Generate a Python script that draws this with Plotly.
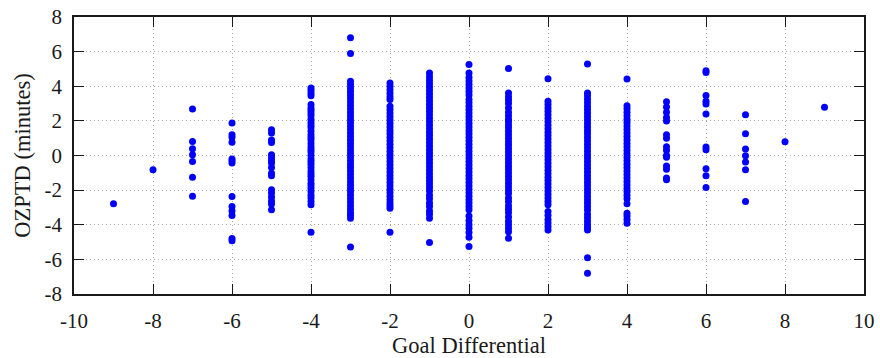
import plotly.graph_objects as go

# Goal differential columns and their OZPTD values (minutes)
gd_m9 = [-2.78]
gd_m8 = [-0.83]
gd_m7 = [2.69, 0.81, 0.39, 0.04, -0.34, -1.25, -2.35]
gd_m6 = [1.88, 1.2, 1.05, 0.76, -0.2, -0.3, -0.44, -2.37, -2.95, -3.2, -3.47, -4.8, -4.92]
gd_m5 = [1.49, 1.3, 0.9, 0.75, 0.04, -0.15, -0.3, -0.44, -0.7, -1.02, -1.17,
         -1.98, -2.17, -2.4, -2.63, -2.8, -3.14]
gd_m4 = [3.9, 3.75, 3.6, 3.45, 2.95, 2.75, 2.6, 2.45, 2.3, 2.1, 1.9, 1.75, 1.6, 1.4,
         1.2, 1.05, 0.9, 0.7, 0.5, 0.35, 0.2, 0.0, -0.2, -0.35, -0.5, -0.7, -0.9,
         -1.05, -1.2, -1.4, -1.6, -1.75, -1.9, -2.1, -2.3, -2.45, -2.65, -2.85, -4.43]
gd_m3 = [6.8, 5.89, 4.29, 4.1, 3.9, 3.7, 3.5, 3.3, 3.1, 2.9, 2.7, 2.5, 2.3, 2.1, 1.9,
         1.7, 1.5, 1.3, 1.1, 0.9, 0.7, 0.5, 0.3, 0.1, -0.1, -0.3, -0.5, -0.7, -0.9,
         -1.1, -1.3, -1.5, -1.7, -1.9, -2.1, -2.3, -2.5, -2.7, -2.9, -3.1, -3.3,
         -3.45, -3.62, -5.28]
gd_m2 = [4.19, 4.0, 3.8, 3.6, 3.4, 3.23, 2.84, 2.65, 2.45, 2.25, 2.05, 1.85, 1.65,
         1.45, 1.25, 1.05, 0.85, 0.65, 0.45, 0.25, 0.05, -0.15, -0.35, -0.55, -0.75,
         -0.95, -1.15, -1.35, -1.55, -1.75, -1.95, -2.15, -2.35, -2.55, -2.75,
         -2.9, -3.04, -4.43]
gd_m1 = [4.77, 4.55, 4.35, 4.15, 3.95, 3.75, 3.55, 3.35, 3.15, 2.95, 2.75, 2.55,
         2.35, 2.15, 1.95, 1.75, 1.55, 1.35, 1.15, 0.95, 0.75, 0.55, 0.35, 0.15,
         -0.05, -0.25, -0.45, -0.65, -0.85, -1.05, -1.25, -1.45, -1.65, -1.85,
         -2.05, -2.3, -2.5, -2.75, -2.95, -3.2, -3.4, -3.62, -5.03]
gd_0 = [5.25, 4.77, 4.5, 4.3, 4.1, 3.9, 3.7, 3.5, 3.23, 3.05, 2.85, 2.65, 2.45, 2.25,
        2.05, 1.85, 1.65, 1.45, 1.25, 1.05, 0.85, 0.65, 0.45, 0.25, 0.05, -0.15,
        -0.35, -0.55, -0.75, -0.95, -1.15, -1.35, -1.55, -1.75, -1.95, -2.15,
        -2.35, -2.55, -2.75, -2.95, -3.14, -3.5, -3.75, -4.0, -4.2, -4.45, -4.72,
        -5.26]
gd_p1 = [5.02, 3.61, 3.4, 3.2, 3.0, 2.75, 2.5, 2.3, 2.1, 1.97, 1.78, 1.6, 1.4, 1.2,
         1.0, 0.8, 0.6, 0.4, 0.2, 0.0, -0.2, -0.4, -0.6, -0.8, -1.0, -1.2, -1.4,
         -1.6, -1.8, -2.0, -2.2, -2.46, -2.66, -2.9, -3.1, -3.3, -3.55, -3.8, -4.0,
         -4.2, -4.4, -4.78]
gd_p2 = [4.44, 3.13, 2.95, 2.75, 2.55, 2.35, 2.15, 1.95, 1.75, 1.55, 1.35, 1.15,
         0.95, 0.75, 0.55, 0.35, 0.15, -0.05, -0.25, -0.45, -0.65, -0.85, -1.05,
         -1.25, -1.45, -1.65, -1.85, -2.05, -2.25, -2.45, -2.65, -2.85, -3.24,
         -3.45, -3.7, -3.9, -4.1, -4.3]
gd_p3 = [5.29, 3.61, 3.45, 3.25, 3.05, 2.85, 2.65, 2.45, 2.25, 2.05, 1.85, 1.65,
         1.45, 1.25, 1.05, 0.85, 0.65, 0.45, 0.25, 0.05, -0.15, -0.35, -0.55, -0.75,
         -0.95, -1.15, -1.35, -1.55, -1.75, -1.95, -2.15, -2.35, -2.55, -2.75,
         -2.95, -3.15, -3.4, -3.6, -3.8, -4.0, -4.15, -4.3, -5.9, -6.8]
gd_p4 = [4.42, 2.88, 2.7, 2.5, 2.3, 2.1, 1.9, 1.7, 1.5, 1.3, 1.1, 0.9, 0.7, 0.5, 0.3,
         0.1, -0.1, -0.3, -0.5, -0.7, -0.9, -1.1, -1.3, -1.5, -1.7, -1.9, -2.1,
         -2.3, -2.5, -2.79, -3.33, -3.5, -3.7, -3.91]
gd_p5 = [3.1, 2.8, 2.5, 2.2, 2.0, 1.2, 1.0, 0.5, 0.3, 0.0, -0.1, -0.6, -0.8, -1.3, -1.4]
gd_p6 = [4.9, 4.8, 3.46, 3.13, 2.98, 2.4, 0.49, 0.33, -0.77, -1.17, -1.85]
gd_p7 = [2.36, 1.26, 0.37, -0.01, -0.38, -0.83, -2.66]
gd_p8 = [0.8]
gd_p9 = [2.78]

columns = {
    -9: gd_m9, -8: gd_m8, -7: gd_m7, -6: gd_m6, -5: gd_m5, -4: gd_m4, -3: gd_m3,
    -2: gd_m2, -1: gd_m1, 0: gd_0, 1: gd_p1, 2: gd_p2, 3: gd_p3, 4: gd_p4,
    5: gd_p5, 6: gd_p6, 7: gd_p7, 8: gd_p8, 9: gd_p9,
}

xs, ys = [], []
for gd, vals in columns.items():
    xs.extend([gd] * len(vals))
    ys.extend(vals)

x_ticks = [-10, -8, -6, -4, -2, 0, 2, 4, 6, 8, 10]
x_labels = ["-10", "-8", "-6", "-4", "-2", "0", "2", "4", "6", "8", "10"]
y_ticks = [-8, -6, -4, -2, 0, 2, 4, 6, 8]
y_labels = ["-8", "-6", "-4", "-2", "0", "2", "4", "6", "8"]

fig = go.Figure(go.Scatter(
    x=xs, y=ys, mode="markers",
    marker=dict(color="#0000ff", size=7, line=dict(width=0)),
    showlegend=False,
))

family = "Liberation Serif, Times New Roman, serif"
tick_font = dict(family=family, size=21, color="#1a1a1a")
title_font = dict(family=family, size=22.5, color="#1a1a1a")
axis_common = dict(
    showline=True, linecolor="#1a1a1a", linewidth=1.5, mirror="ticks",
    ticks="inside", ticklen=10, tickwidth=1, tickcolor="#1a1a1a",
    showgrid=True, gridcolor="#a8a8a8", gridwidth=1, griddash="1px,3px",
    zeroline=False, tickfont=tick_font, automargin=False,
)

fig.update_layout(
    width=880, height=358,
    margin=dict(l=74, r=16, t=17, b=64),
    plot_bgcolor="white", paper_bgcolor="white",
    font=tick_font,
    xaxis=dict(range=[-10, 10], tickvals=x_ticks, ticktext=x_labels,
               ticklabelstandoff=7,
               title=dict(text="Goal Differential", font=title_font, standoff=6),
               **axis_common),
    yaxis=dict(range=[-8, 8], tickvals=y_ticks, ticktext=y_labels,
               ticklabelstandoff=6,
               title=dict(text="OZPTD (minutes)", font=title_font, standoff=8),
               **axis_common),
)

fig.write_html("out.html", config={"displayModeBar": False})

# remove the browser's default page margin so the figure sits at the window's corner
with open("out.html", "r", encoding="utf-8") as f:
    html = f.read()
html = html.replace("<head>", "<head><style>html,body{margin:0;padding:0;overflow:hidden}</style>", 1)
with open("out.html", "w", encoding="utf-8") as f:
    f.write(html)
